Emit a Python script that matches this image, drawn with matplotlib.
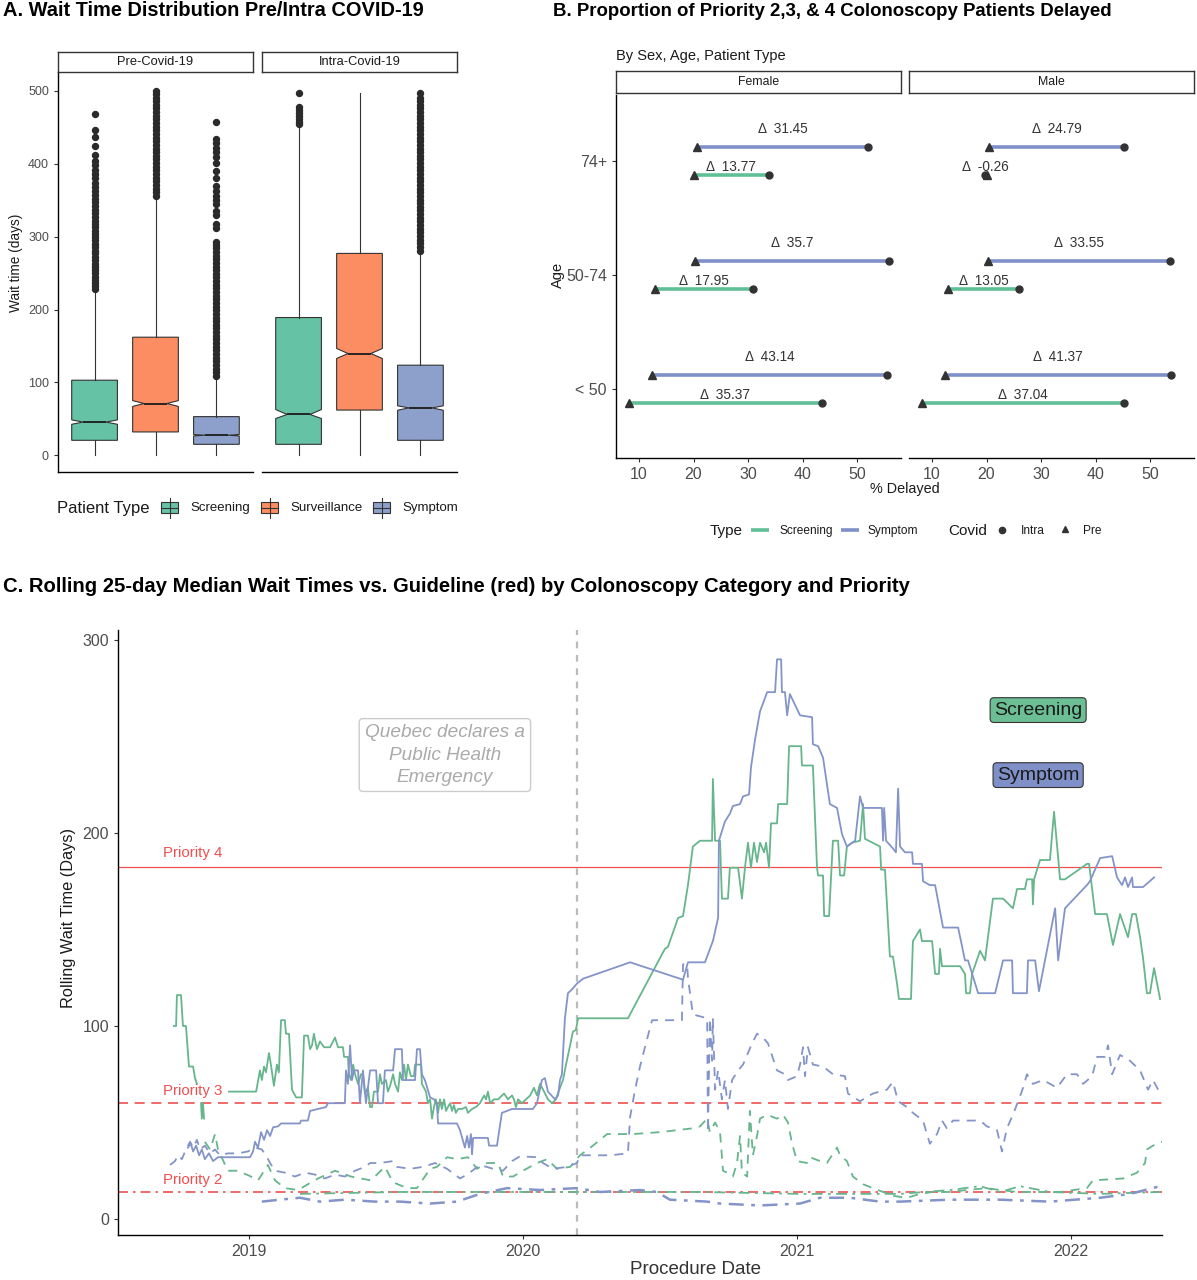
import numpy as np
import matplotlib
matplotlib.use("Agg")
import matplotlib.pyplot as plt
from matplotlib.patches import Rectangle

plt.rcParams['font.family'] = ['Liberation Sans', 'DejaVu Sans']

W, H = 1197, 1280

# ---------------- colours
GREEN = '#66C2A5'
ORANGE = '#FC8D62'
BLUE = '#8DA0CB'
LINE_GREEN = '#5fbf96'
LINE_BLUE = '#7f90c8'
TS_GREEN = '#66b58d'
TS_BLUE = '#8494c8'
RED = '#ee5050'
TXT = '#4d4d4d'

# ---------------- panel A data (box statistics)
box_types = ['Screening', 'Surveillance', 'Symptom']
box_colors = [GREEN, ORANGE, BLUE]

pre_q1 = [20.5, 32, 15]
pre_med = [45.5, 71, 27.5]
pre_q3 = [103, 162, 53]
pre_whislo = [0, 0, 0]
pre_whishi = [227, 355, 108]
pre_cilo = [42.5, 67, 26.5]
pre_cihi = [48.5, 75, 28.5]

intra_q1 = [15, 62, 20.5]
intra_med = [56, 139.6, 65]
intra_q3 = [189, 277, 123.6]
intra_whislo = [0, 0, 0]
intra_whishi = [455, 497, 279]
intra_cilo = [50.4, 132.8, 61.8]
intra_cihi = [62.7, 146.5, 67.8]

pre_scr_out = [228, 232, 236, 241, 245, 250, 254, 259, 263, 268, 272, 277, 281, 286, 290, 295, 299,
               304, 308, 313, 318, 322, 327, 332, 337, 342, 347, 352, 357, 362, 368, 374, 380, 386,
               392, 398, 404, 412, 425, 437, 447, 469]
pre_sur_out = [356, 361, 366, 371, 376, 381, 386, 391, 396, 401, 406, 411, 416, 421, 426, 431, 436,
               441, 446, 451, 456, 461, 466, 471, 476, 481, 486, 491, 496, 500]
pre_sym_out = [109, 114, 119, 124, 129, 134, 139, 144, 149, 154, 159, 164, 169, 174, 179, 184, 189,
               194, 199, 204, 209, 214, 219, 224, 229, 234, 239, 244, 249, 254, 259, 264, 269, 274,
               279, 284, 289, 293, 312, 318, 330, 335, 345, 350, 356, 362, 370, 380, 390, 401, 410,
               416, 422, 428, 434, 458]
intra_scr_out = [455, 458, 462, 466, 470, 474, 478, 497]
intra_sur_out = []
intra_sym_out = [281, 286, 291, 296, 301, 306, 311, 316, 321, 326, 331, 336, 341, 346, 351, 356, 361,
                 366, 371, 376, 381, 386, 391, 396, 401, 406, 411, 416, 421, 426, 431, 436, 441, 446,
                 451, 456, 461, 466, 471, 476, 481, 486, 491, 497]

# ---------------- panel B data
ages = ['< 50', '50-74', '74+']
f_scr_pre = [8.1, 13.0, 20.0]
f_scr_intra = [43.5, 30.95, 33.8]
f_scr_delta = ['35.37', '17.95', '13.77']
f_sym_pre = [12.4, 20.2, 20.6]
f_sym_intra = [55.5, 55.9, 52.05]
f_sym_delta = ['43.14', '35.7', '31.45']
m_scr_pre = [8.2, 12.9, 20.0]
m_scr_intra = [45.2, 26.0, 19.75]
m_scr_delta = ['37.04', '13.05', '-0.26']
m_sym_pre = [12.4, 20.2, 20.5]
m_sym_intra = [53.8, 53.75, 45.3]
m_sym_delta = ['41.37', '33.55', '24.79']

# ---------------- panel C data: (decimal year, rolling median days)
scr_p4 = [(2018.726, 100), (2018.734, 100), (2018.737, 116), (2018.752, 116), (2018.759, 100),
          (2018.770, 100), (2018.781, 79), (2018.796, 79), (2018.803, 73), (2018.810, 70),
          (2018.818, np.nan), (2018.825, 60), (2018.828, 52), (2018.832, 60), (2018.836, 52),
          (2018.840, np.nan),
          (2018.927, 66), (2019.026, 66), (2019.040, 77), (2019.047, 72), (2019.055, 79), (2019.062, 76),
          (2019.073, 86), (2019.080, 80), (2019.091, 69), (2019.102, 80), (2019.109, 76), (2019.117, 103),
          (2019.131, 103), (2019.135, 96), (2019.146, 96), (2019.157, 67), (2019.172, 63), (2019.193, 63),
          (2019.201, 95), (2019.215, 95), (2019.223, 88), (2019.230, 90), (2019.237, 96), (2019.248, 88),
          (2019.259, 92), (2019.274, 89), (2019.296, 89), (2019.314, 94), (2019.325, 89), (2019.343, 89),
          (2019.347, 84), (2019.361, 84), (2019.365, 75), (2019.372, 72), (2019.380, 80), (2019.387, 75),
          (2019.398, 70), (2019.409, 75), (2019.416, 75), (2019.423, 65), (2019.434, 68), (2019.442, 58),
          (2019.449, 58), (2019.456, 66), (2019.471, 66), (2019.478, 75), (2019.485, 70), (2019.500, 72),
          (2019.507, 66), (2019.515, 69), (2019.526, 75), (2019.533, 70), (2019.544, 66), (2019.551, 76),
          (2019.558, 72), (2019.566, 80), (2019.573, 72), (2019.580, 80), (2019.591, 74), (2019.602, 74),
          (2019.606, 80), (2019.628, 80), (2019.631, 70), (2019.646, 66), (2019.653, 60), (2019.661, 62),
          (2019.668, 52), (2019.675, 58), (2019.682, 62), (2019.690, 55), (2019.697, 62), (2019.704, 57),
          (2019.712, 62), (2019.719, 56), (2019.726, 58), (2019.734, 60), (2019.741, 56), (2019.748, 59),
          (2019.755, 55), (2019.763, 57), (2019.777, 57), (2019.792, 58), (2019.799, 55), (2019.814, 57),
          (2019.828, 58), (2019.843, 60), (2019.858, 64), (2019.865, 62), (2019.872, 66), (2019.880, 60),
          (2019.894, 62), (2019.909, 62), (2019.916, 63), (2019.931, 65), (2019.945, 62), (2019.960, 64),
          (2019.967, 62), (2019.974, 58), (2019.982, 62), (2019.996, 60), (2020.011, 62), (2020.026, 64),
          (2020.040, 68), (2020.051, 64), (2020.062, 70), (2020.077, 66), (2020.091, 62), (2020.106, 60),
          (2020.120, 62), (2020.135, 68), (2020.146, 72), (2020.157, 80), (2020.172, 90), (2020.182, 97),
          (2020.193, 98), (2020.201, 104), (2020.383, 104), (2020.518, 140), (2020.529, 141),
          (2020.566, 156), (2020.584, 157), (2020.602, 173), (2020.620, 193), (2020.646, 196),
          (2020.690, 196), (2020.693, 228), (2020.701, 196), (2020.719, 196), (2020.726, 166),
          (2020.748, 166), (2020.755, 182), (2020.785, 182), (2020.799, 166), (2020.810, 182),
          (2020.821, 195), (2020.832, 182), (2020.843, 195), (2020.854, 185), (2020.865, 195),
          (2020.880, 190), (2020.887, 195), (2020.898, 182), (2020.905, 205), (2020.927, 205),
          (2020.931, 215), (2020.964, 215), (2020.971, 245), (2021.015, 245), (2021.018, 235),
          (2021.058, 235), (2021.073, 182), (2021.077, 178), (2021.095, 178), (2021.099, 157),
          (2021.117, 157), (2021.131, 196), (2021.150, 196), (2021.157, 178), (2021.172, 178),
          (2021.182, 193), (2021.201, 195), (2021.230, 196), (2021.241, 215), (2021.248, 197),
          (2021.303, 193), (2021.307, 181), (2021.321, 181), (2021.339, 136), (2021.350, 136),
          (2021.365, 122), (2021.372, 114), (2021.416, 114), (2021.423, 144), (2021.449, 150),
          (2021.456, 144), (2021.493, 144), (2021.504, 127), (2021.518, 127), (2021.522, 140),
          (2021.529, 131), (2021.566, 131), (2021.595, 131), (2021.613, 127), (2021.617, 117),
          (2021.631, 117), (2021.639, 127), (2021.668, 139), (2021.686, 134), (2021.715, 166),
          (2021.752, 166), (2021.788, 161), (2021.803, 171), (2021.832, 171), (2021.839, 176),
          (2021.858, 176), (2021.861, 163), (2021.865, 176), (2021.887, 186), (2021.923, 186),
          (2021.938, 211), (2021.960, 176), (2021.978, 176), (2022.058, 184), (2022.066, 184),
          (2022.088, 158), (2022.131, 158), (2022.153, 142), (2022.179, 158), (2022.208, 146),
          (2022.223, 158), (2022.237, 158), (2022.252, 146), (2022.263, 135), (2022.277, 117),
          (2022.288, 117), (2022.303, 130), (2022.325, 114)]

sym_p4 = [(2018.777, 37), (2018.788, 39), (2018.796, 35), (2018.807, 38), (2018.818, 33), (2018.828, 36),
          (2018.839, 31), (2018.854, 34), (2018.869, 30), (2018.887, 32), (2019.004, 32), (2019.015, 35),
          (2019.022, 40), (2019.033, 37), (2019.044, 45), (2019.055, 41), (2019.066, 46), (2019.077, 43),
          (2019.088, 47.5), (2019.106, 48), (2019.117, 49.5), (2019.186, 49.5), (2019.190, 51),
          (2019.215, 51), (2019.223, 56), (2019.252, 57), (2019.281, 58), (2019.288, 60), (2019.350, 60),
          (2019.354, 77), (2019.361, 70), (2019.369, 90), (2019.376, 72), (2019.383, 77), (2019.398, 77),
          (2019.405, 60), (2019.416, 77), (2019.427, 60), (2019.442, 77), (2019.464, 77), (2019.471, 60),
          (2019.489, 60), (2019.496, 77), (2019.526, 77), (2019.533, 88), (2019.558, 88), (2019.562, 72),
          (2019.606, 72), (2019.613, 88), (2019.624, 88), (2019.631, 75), (2019.642, 72), (2019.661, 63),
          (2019.675, 62), (2019.686, 60), (2019.690, 49.5), (2019.759, 49.5), (2019.770, 46),
          (2019.788, 37), (2019.796, 43), (2019.803, 37), (2019.810, 44), (2019.814, 33.5),
          (2019.818, 42), (2019.872, 42), (2019.876, 38), (2019.905, 38), (2019.923, 55), (2019.942, 56),
          (2019.960, 57), (2020.036, 57), (2020.051, 60), (2020.069, 72), (2020.080, 73), (2020.091, 66),
          (2020.117, 62), (2020.128, 64), (2020.135, 72), (2020.142, 75), (2020.153, 104), (2020.164, 117),
          (2020.179, 119), (2020.197, 122), (2020.219, 124.5), (2020.391, 133), (2020.584, 124),
          (2020.602, 133), (2020.664, 133), (2020.693, 144), (2020.712, 156), (2020.715, 196),
          (2020.726, 201), (2020.737, 206), (2020.755, 210), (2020.766, 214), (2020.792, 215),
          (2020.803, 219), (2020.825, 220), (2020.832, 234), (2020.847, 248.5), (2020.865, 263),
          (2020.891, 273), (2020.920, 273), (2020.927, 290), (2020.942, 290), (2020.945, 273),
          (2020.956, 273), (2020.964, 261), (2020.974, 272), (2021.011, 261), (2021.055, 260),
          (2021.058, 246), (2021.077, 245), (2021.095, 239), (2021.120, 215), (2021.146, 213),
          (2021.164, 199.5), (2021.182, 193), (2021.212, 196), (2021.230, 219), (2021.241, 213),
          (2021.310, 213), (2021.314, 196), (2021.318, 213), (2021.325, 196), (2021.350, 192),
          (2021.361, 190), (2021.369, 223), (2021.376, 193), (2021.394, 190), (2021.420, 190),
          (2021.423, 184), (2021.456, 184), (2021.460, 175), (2021.485, 173), (2021.504, 173),
          (2021.533, 151), (2021.588, 151), (2021.613, 134), (2021.624, 134), (2021.661, 117),
          (2021.723, 117), (2021.752, 134), (2021.785, 134), (2021.788, 117), (2021.839, 117),
          (2021.843, 134), (2021.869, 134), (2021.883, 118), (2021.905, 134), (2021.942, 161),
          (2021.953, 134), (2021.978, 161), (2022.058, 173), (2022.069, 175), (2022.106, 187),
          (2022.150, 188), (2022.168, 177), (2022.186, 173), (2022.197, 177), (2022.208, 172),
          (2022.223, 177), (2022.226, 172), (2022.263, 172), (2022.303, 177)]

sym_p3 = [(2018.712, 28), (2018.730, 30), (2018.741, 33), (2018.755, 31), (2018.770, 36), (2018.785, 40),
          (2018.796, 37), (2018.810, 41), (2018.821, 36), (2018.839, 38), (2018.858, 34), (2018.876, 36),
          (2018.894, 33), (2018.923, 34), (2018.960, 34), (2018.996, 35), (2019.022, 37), (2019.047, 36),
          (2019.062, 33), (2019.077, 29), (2019.095, 25), (2019.131, 24), (2019.168, 22), (2019.204, 24),
          (2019.241, 23), (2019.277, 21), (2019.314, 23), (2019.350, 22), (2019.387, 25), (2019.423, 27),
          (2019.442, 29), (2019.478, 29), (2019.526, 30), (2019.540, 27), (2019.588, 26), (2019.635, 27),
          (2019.679, 29), (2019.723, 26), (2019.770, 21), (2019.796, 23), (2019.843, 28), (2019.891, 26),
          (2019.927, 25), (2019.960, 30), (2019.989, 32.5), (2020.051, 32), (2020.073, 29), (2020.109, 26),
          (2020.161, 27), (2020.197, 29), (2020.208, 33), (2020.318, 33), (2020.383, 34), (2020.391, 53),
          (2020.409, 67), (2020.427, 79), (2020.445, 89), (2020.471, 103), (2020.580, 103),
          (2020.584, 132), (2020.599, 132), (2020.602, 125), (2020.620, 106), (2020.672, 104),
          (2020.675, 45), (2020.682, 104), (2020.690, 82), (2020.693, 104), (2020.701, 67),
          (2020.712, 77), (2020.726, 62), (2020.737, 72), (2020.748, 57), (2020.763, 72), (2020.785, 77),
          (2020.803, 80), (2020.836, 91), (2020.854, 96), (2020.876, 94), (2020.894, 91), (2020.927, 77),
          (2020.956, 75), (2020.967, 72), (2021.000, 74), (2021.011, 80), (2021.022, 89), (2021.029, 74),
          (2021.040, 89), (2021.058, 80), (2021.095, 79), (2021.131, 75), (2021.175, 74), (2021.186, 65),
          (2021.230, 61), (2021.277, 65), (2021.328, 67), (2021.350, 71), (2021.369, 61), (2021.401, 58),
          (2021.423, 55), (2021.460, 51), (2021.474, 44), (2021.485, 39), (2021.511, 44), (2021.529, 51),
          (2021.547, 47), (2021.569, 51), (2021.620, 51), (2021.668, 51), (2021.693, 48), (2021.730, 46),
          (2021.748, 35), (2021.766, 47), (2021.788, 54), (2021.807, 61), (2021.825, 68), (2021.839, 75),
          (2021.861, 70), (2021.898, 72), (2021.949, 68), (2021.985, 75), (2022.022, 75), (2022.044, 70),
          (2022.077, 74), (2022.095, 84), (2022.124, 84), (2022.135, 90), (2022.150, 75), (2022.179, 85),
          (2022.215, 82), (2022.252, 77), (2022.281, 67), (2022.299, 72), (2022.318, 67)]

scr_p3 = [(2018.839, 40), (2018.858, 36), (2018.876, 44), (2018.887, 36), (2018.923, 25), (2018.960, 25),
          (2019.007, 22), (2019.033, 20), (2019.069, 28), (2019.095, 20), (2019.131, 16), (2019.179, 15),
          (2019.215, 18), (2019.252, 21), (2019.314, 25), (2019.372, 22), (2019.445, 20), (2019.496, 27),
          (2019.526, 19), (2019.577, 16), (2019.613, 16), (2019.661, 26), (2019.686, 27), (2019.723, 32),
          (2019.759, 31), (2019.799, 32), (2019.832, 26), (2019.869, 29), (2019.909, 29), (2019.927, 22),
          (2019.964, 22), (2020.000, 25), (2020.051, 29), (2020.088, 31), (2020.124, 26), (2020.172, 27),
          (2020.208, 33), (2020.255, 38), (2020.307, 44), (2020.401, 44), (2020.500, 45), (2020.620, 47),
          (2020.646, 48), (2020.672, 52), (2020.682, 45), (2020.701, 50), (2020.719, 45), (2020.730, 25),
          (2020.745, 24), (2020.766, 22), (2020.781, 29), (2020.792, 43), (2020.799, 24), (2020.818, 22),
          (2020.828, 56), (2020.839, 33), (2020.854, 43), (2020.865, 52), (2020.891, 54), (2020.927, 52),
          (2020.949, 54), (2020.967, 50), (2020.982, 39), (2021.000, 30), (2021.036, 29), (2021.047, 32),
          (2021.084, 30), (2021.109, 29), (2021.146, 37), (2021.157, 33), (2021.182, 30), (2021.204, 22),
          (2021.241, 18), (2021.277, 16), (2021.314, 14), (2021.350, 12), (2021.401, 11), (2021.449, 13),
          (2021.496, 14), (2021.558, 14), (2021.620, 15), (2021.693, 16), (2021.741, 15), (2021.803, 14),
          (2021.960, 14), (2022.058, 16), (2022.080, 20), (2022.190, 21), (2022.241, 24), (2022.270, 29),
          (2022.277, 36), (2022.299, 38), (2022.332, 40)]

sym_p2 = [(2019.047, 9), (2019.113, 10), (2019.186, 11), (2019.259, 9), (2019.350, 10), (2019.460, 9),
          (2019.551, 9), (2019.661, 8), (2019.759, 9), (2019.843, 13), (2019.942, 16), (2020.062, 15),
          (2020.197, 16), (2020.281, 14), (2020.427, 15), (2020.489, 14), (2020.536, 10), (2020.672, 9),
          (2020.719, 8), (2020.865, 7), (2021.011, 8), (2021.084, 11), (2021.193, 11), (2021.303, 9),
          (2021.376, 9), (2021.558, 10), (2021.741, 10), (2021.923, 9), (2022.106, 11), (2022.215, 13),
          (2022.270, 15), (2022.325, 17)]

scr_p2 = [(2019.186, 13), (2019.551, 14), (2019.916, 14), (2020.281, 14), (2020.646, 14), (2021.011, 13),
          (2021.376, 13), (2021.558, 15), (2021.668, 17), (2021.741, 14), (2021.814, 17), (2021.923, 14),
          (2022.106, 13), (2022.325, 14)]

priority_days = [14, 60, 182.5]
priority_names = ['Priority 2', 'Priority 3', 'Priority 4']
emergency_date = 2020.197
year_ticks = [2019, 2020, 2021, 2022]


def px_rect(x0, y0, x1, y1):
    return [x0 / W, 1 - y1 / H, (x1 - x0) / W, (y1 - y0) / H]


def strip(x0, y0, x1, y1, label, size):
    s = fig.add_axes(px_rect(x0, y0, x1, y1))
    s.set_xticks([])
    s.set_yticks([])
    for sp in s.spines.values():
        sp.set_linewidth(1.0)
        sp.set_color('#333333')
    s.text(0.5, 0.5, label, ha='center', va='center', fontsize=size, color='#1a1a1a')


def classic(ax, left=True):
    for side in ['top', 'right']:
        ax.spines[side].set_visible(False)
    ax.spines['left'].set_visible(left)
    ax.spines['bottom'].set_linewidth(1.0)
    ax.spines['left'].set_linewidth(1.0)
    ax.tick_params(colors='#333333', labelcolor=TXT, length=3, width=0.8)


fig = plt.figure(figsize=(W / 100, H / 100), dpi=100)

# overlay in pixel coordinates for titles and legends
ov = fig.add_axes([0, 0, 1, 1])
ov.set_xlim(0, W)
ov.set_ylim(H, 0)
ov.axis('off')

# ================= Panel A
ov.text(3, 11, 'A. Wait Time Distribution Pre/Intra COVID-19', fontsize=14.4,
        fontweight='bold', va='center', ha='left')


def box_stats(q1, med, q3, lo, hi, cilo, cihi, outs):
    st = []
    for i in range(3):
        st.append(dict(q1=q1[i], med=med[i], q3=q3[i], whislo=lo[i], whishi=hi[i],
                       cilo=cilo[i], cihi=cihi[i], fliers=outs[i], label=box_types[i]))
    return st


panels_a = [
    ((58, 253), 'Pre-Covid-19',
     box_stats(pre_q1, pre_med, pre_q3, pre_whislo, pre_whishi, pre_cilo, pre_cihi,
               [pre_scr_out, pre_sur_out, pre_sym_out]), True),
    ((262, 457), 'Intra-Covid-19',
     box_stats(intra_q1, intra_med, intra_q3, intra_whislo, intra_whishi, intra_cilo, intra_cihi,
               [intra_scr_out, intra_sur_out, intra_sym_out]), False),
]

for (x0, x1), name, stats, first in panels_a:
    ax = fig.add_axes(px_rect(x0, 72, x1, 472))
    bp = ax.bxp(stats, positions=[1, 2, 3], widths=0.75, shownotches=True, patch_artist=True,
                showcaps=False,
                boxprops=dict(edgecolor='#333333', linewidth=0.8),
                medianprops=dict(color='#1a1a1a', linewidth=1.3),
                whiskerprops=dict(color='#333333', linewidth=0.8),
                flierprops=dict(marker='o', markersize=4.3, markerfacecolor='#2b2b2b',
                                markeredgecolor='#2b2b2b'))
    for patch, c in zip(bp['boxes'], box_colors):
        patch.set_facecolor(c)
    ax.set_xlim(0.4, 3.6)
    ax.set_ylim(-23, 526)
    ax.set_xticks([])
    classic(ax, left=first)
    if first:
        ax.set_yticks([0, 100, 200, 300, 400, 500])
        ax.tick_params(axis='y', labelsize=9)
    else:
        ax.set_yticks([])
    strip(x0, 52, x1, 72, name, 9.3)

ov.text(16, 263, 'Wait time (days)', rotation=90, fontsize=9.8, ha='center', va='center', color='#1a1a1a')

ov.text(57, 508, 'Patient Type', fontsize=12, ha='left', va='center', color='#1a1a1a')
leg_a_x = [161, 261, 373]
for xk, c, lab in zip(leg_a_x, box_colors, box_types):
    ov.plot([xk + 8.5, xk + 8.5], [498, 518], color='#333333', lw=0.8)
    ov.add_patch(Rectangle((xk, 502), 17, 11, facecolor=c, edgecolor='#333333', lw=0.8))
    ov.plot([xk, xk + 17], [507.5, 507.5], color='#333333', lw=0.8)
    ov.text(xk + 29, 508, lab, fontsize=9.5, ha='left', va='center', color='#1a1a1a')

# ================= Panel B
ov.text(553, 11, 'B. Proportion of Priority 2,3, & 4 Colonoscopy Patients Delayed', fontsize=13.4,
        fontweight='bold', va='center', ha='left')
ov.text(616, 56, 'By Sex, Age, Patient Type', fontsize=10.5, ha='left', va='center', color='#1a1a1a')

panels_b = [
    ((616, 901), 'Female', f_scr_pre, f_scr_intra, f_scr_delta, f_sym_pre, f_sym_intra, f_sym_delta, True),
    ((909, 1194), 'Male', m_scr_pre, m_scr_intra, m_scr_delta, m_sym_pre, m_sym_intra, m_sym_delta, False),
]
ypos = np.arange(1, len(ages) + 1)
for (x0, x1), name, sp, si, sd, yp, yi, yd, first in panels_b:
    ax = fig.add_axes(px_rect(x0, 95, x1, 458))
    for i, y in enumerate(ypos):
        ysym = y + 0.125
        yscr = y - 0.123
        ax.plot([yp[i], yi[i]], [ysym, ysym], color=LINE_BLUE, lw=2.6, solid_capstyle='butt', zorder=2)
        ax.plot([sp[i], si[i]], [yscr, yscr], color=LINE_GREEN, lw=2.6, solid_capstyle='butt', zorder=2)
        ax.plot([yi[i]], [ysym], 'o', color='#333333', ms=5, zorder=3)
        ax.plot([si[i]], [yscr], 'o', color='#333333', ms=5, zorder=3)
        ax.plot([yp[i]], [ysym], '^', color='#333333', ms=5.5, zorder=4)
        ax.plot([sp[i]], [yscr], '^', color='#333333', ms=5.5, zorder=4)
        ax.text((yp[i] + yi[i]) / 2, y + 0.283, '\u0394  ' + yd[i], ha='center', va='center',
                fontsize=9.8, color='#333333')
        ax.text((sp[i] + si[i]) / 2, y - 0.05, '\u0394  ' + sd[i], ha='center', va='center',
                fontsize=9.8, color='#333333')
    ax.set_xlim(5.78, 58.07)
    ax.set_ylim(0.395, 3.58)
    ax.set_xticks([10, 20, 30, 40, 50])
    classic(ax, left=first)
    ax.tick_params(axis='x', labelsize=11.5)
    if first:
        ax.set_yticks(ypos)
        ax.set_yticklabels(ages)
        ax.tick_params(axis='y', labelsize=11.5)
    else:
        ax.set_yticks([])
    strip(x0, 71, x1, 93, name, 8.8)

ov.text(558, 275, 'Age', rotation=90, fontsize=10.5, ha='center', va='center', color='#1a1a1a')
ov.text(905, 489, '% Delayed', fontsize=10.4, ha='center', va='center', color='#1a1a1a')

ov.text(710, 531, 'Type', fontsize=11, ha='left', va='center', color='#1a1a1a')
ov.plot([751, 769], [530, 530], color=LINE_GREEN, lw=2.6, solid_capstyle='butt')
ov.text(779, 531, 'Screening', fontsize=8.6, ha='left', va='center', color='#1a1a1a')
ov.plot([841, 859], [530, 530], color=LINE_BLUE, lw=2.6, solid_capstyle='butt')
ov.text(868, 531, 'Symptom', fontsize=8.6, ha='left', va='center', color='#1a1a1a')
ov.text(948, 531, 'Covid', fontsize=11, ha='left', va='center', color='#1a1a1a')
ov.plot([1002], [530], 'o', color='#333333', ms=4.5)
ov.text(1021, 531, 'Intra', fontsize=8.6, ha='left', va='center', color='#1a1a1a')
ov.plot([1065], [529], '^', color='#333333', ms=5)
ov.text(1083, 531, 'Pre', fontsize=8.6, ha='left', va='center', color='#1a1a1a')

# ================= Panel C
ov.text(3, 586, 'C. Rolling 25-day Median Wait Times vs. Guideline (red) by Colonoscopy Category and Priority',
        fontsize=14.6, fontweight='bold', va='center', ha='left')

axc = fig.add_axes(px_rect(118, 630, 1162, 1235))
axc.axhline(priority_days[2], color=RED, lw=0.9, zorder=1)
axc.axhline(priority_days[1], color=RED, lw=1.2, ls=(0, (6, 4)), zorder=1)
axc.axhline(priority_days[0], color=RED, lw=1.2, ls=(0, (6, 3, 1.5, 3)), zorder=1)
axc.axvline(emergency_date, color='#bbbbbb', lw=1.6, ls=(0, (3, 3)), zorder=1)


def series(pairs):
    a = np.array(pairs, dtype=float)
    return a[:, 0], a[:, 1]


for data, c, ls, lw in [(scr_p2, TS_GREEN, (0, (6, 3, 1.5, 3)), 1.3),
                        (sym_p2, TS_BLUE, (0, (6, 3, 1.5, 3)), 1.8),
                        (scr_p3, TS_GREEN, (0, (5, 4)), 1.3),
                        (sym_p3, TS_BLUE, (0, (5, 4)), 1.3),
                        (scr_p4, TS_GREEN, '-', 1.3),
                        (sym_p4, TS_BLUE, '-', 1.3)]:
    xs, ys = series(data)
    axc.plot(xs, ys, color=c, ls=ls, lw=lw, zorder=2)

label_x = 2018.686
for d, n, dy in zip(priority_days, priority_names, [6.2, 6.3, 7.1]):
    axc.text(label_x, d + dy, n, color=RED, fontsize=10.8, ha='left', va='center')

axc.text(2019.715, 240.4, 'Quebec declares a\nPublic Health\nEmergency', fontsize=13.7,
         style='italic', color='#aaaaaa', ha='center', va='center', linespacing=1.4,
         bbox=dict(boxstyle='round,pad=0.3,rounding_size=0.2', facecolor='white',
                   edgecolor='#cccccc', lw=1))
axc.text(2021.88, 263.7, 'Screening', fontsize=14, color='#1a1a1a', ha='center', va='center',
         bbox=dict(boxstyle='round,pad=0.2,rounding_size=0.2', facecolor='#6cbf95',
                   edgecolor='#333333', lw=0.8))
axc.text(2021.88, 230, 'Symptom', fontsize=14, color='#1a1a1a', ha='center', va='center',
         bbox=dict(boxstyle='round,pad=0.2,rounding_size=0.2', facecolor='#7f8fc8',
                   edgecolor='#333333', lw=0.8))

axc.set_xlim(2018.522, 2022.332)
axc.set_ylim(-8.3, 305.2)
axc.set_xticks(year_ticks)
axc.set_xticklabels([str(y) for y in year_ticks])
axc.set_yticks([0, 100, 200, 300])
classic(axc)
axc.tick_params(labelsize=11.5)

ov.text(68, 918, 'Rolling Wait Time (Days)', rotation=90, fontsize=11.8, ha='center', va='center',
        color='#1a1a1a')
ov.text(695, 1270, 'Procedure Date', fontsize=13.5, ha='center', va='center', color='#333333')

fig.savefig('out.png', dpi=100)
